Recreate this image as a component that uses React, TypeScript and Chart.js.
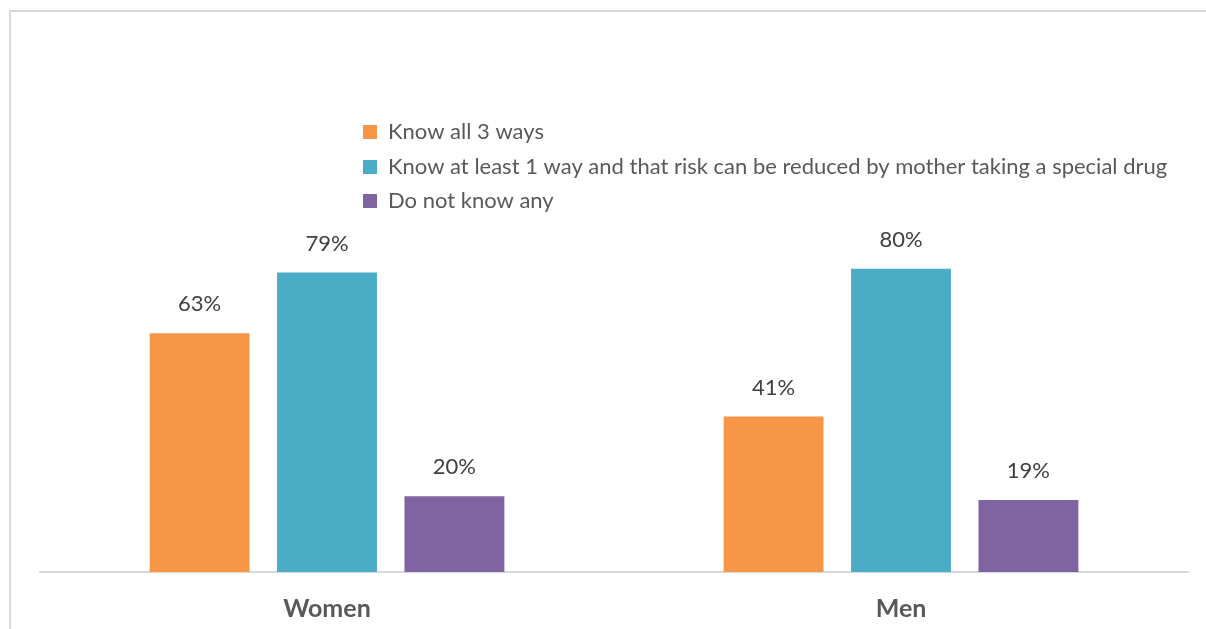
import React, { useEffect, useRef } from "react";
import { Chart, registerables } from "chart.js";

Chart.register(...registerables);

const categories = ["Women", "Men"];
const seriesNames = [
  "Know all 3 ways",
  "Know at least 1 way and that risk can be reduced by mother taking a special drug",
  "Do not know any",
];
const knowAll3 = [63, 41];
const knowAtLeast1 = [79, 80];
const doNotKnow = [20, 19];
const colors = ["#F79646", "#4BACC6", "#8064A2"];

const FONT = "Lato, 'Open Sans', sans-serif";

const labelsPlugin = {
  id: "valueLabels",
  afterDatasetsDraw(chart: any) {
    const ctx = chart.ctx;
    ctx.save();
    ctx.font = `22px ${FONT}`;
    ctx.fillStyle = "#404040";
    ctx.textAlign = "center";
    ctx.textBaseline = "middle";
    chart.data.datasets.forEach((ds: any, i: number) => {
      const meta = chart.getDatasetMeta(i);
      meta.data.forEach((bar: any, j: number) => {
        ctx.fillText(ds.data[j] + "%", bar.x, bar.y - 29);
      });
    });
    ctx.restore();
  },
};

const legendPlugin = {
  id: "customLegend",
  afterDraw(chart: any) {
    const ctx = chart.ctx;
    ctx.save();
    ctx.font = `22px ${FONT}`;
    ctx.textBaseline = "middle";
    ctx.textAlign = "left";
    const x0 = 363;
    const rows = [132, 167, 201];
    chart.data.datasets.forEach((ds: any, i: number) => {
      const y = rows[i];
      ctx.fillStyle = ds.backgroundColor;
      ctx.fillRect(x0, y - 7, 14, 14);
      ctx.fillStyle = "#595959";
      ctx.fillText(ds.label, x0 + 25, y);
    });
    ctx.restore();
  },
};

export default function App() {
  const ref = useRef<HTMLCanvasElement>(null);
  useEffect(() => {
    if (!ref.current) return;
    const chart = new Chart(ref.current, {
      type: "bar",
      data: {
        labels: categories,
        datasets: [
          { label: seriesNames[0], data: knowAll3, backgroundColor: colors[0] },
          { label: seriesNames[1], data: knowAtLeast1, backgroundColor: colors[1] },
          { label: seriesNames[2], data: doNotKnow, backgroundColor: colors[2] },
        ],
      },
      options: {
        animation: false,
        responsive: false,
        maintainAspectRatio: false,
        datasets: {
          bar: { categoryPercentage: 0.666, barPercentage: 0.784 },
        },
        layout: { padding: { left: 40, right: 18, top: 193, bottom: 0 } },
        plugins: {
          legend: { display: false },
          tooltip: { enabled: false },
        },
        scales: {
          x: {
            grid: { display: false, drawTicks: false },
            border: { display: true, color: "#D9D9D9", width: 2 },
            ticks: {
              padding: 22,
              color: "#595959",
              font: { family: FONT, size: 25, weight: "bold" },
            },
          },
          y: {
            display: false,
            min: 0,
            max: 100,
          },
        },
      },
      plugins: [labelsPlugin, legendPlugin],
    });
    return () => chart.destroy();
  }, []);

  return (
    <div
      style={{
        position: "absolute",
        left: 0,
        top: 0,
        width: 1206,
        height: 629,
        background: "#fff",
        overflow: "hidden",
      }}
    >
      <div
        style={{
          position: "absolute",
          left: 9,
          top: 10,
          width: 1197,
          height: 619,
          borderLeft: "2px solid #D9D9D9",
          borderTop: "2px solid #D9D9D9",
          boxSizing: "border-box",
        }}
      />
      <canvas ref={ref} width={1206} height={646} style={{ position: "absolute", left: 0, top: 0 }} />
    </div>
  );
}
